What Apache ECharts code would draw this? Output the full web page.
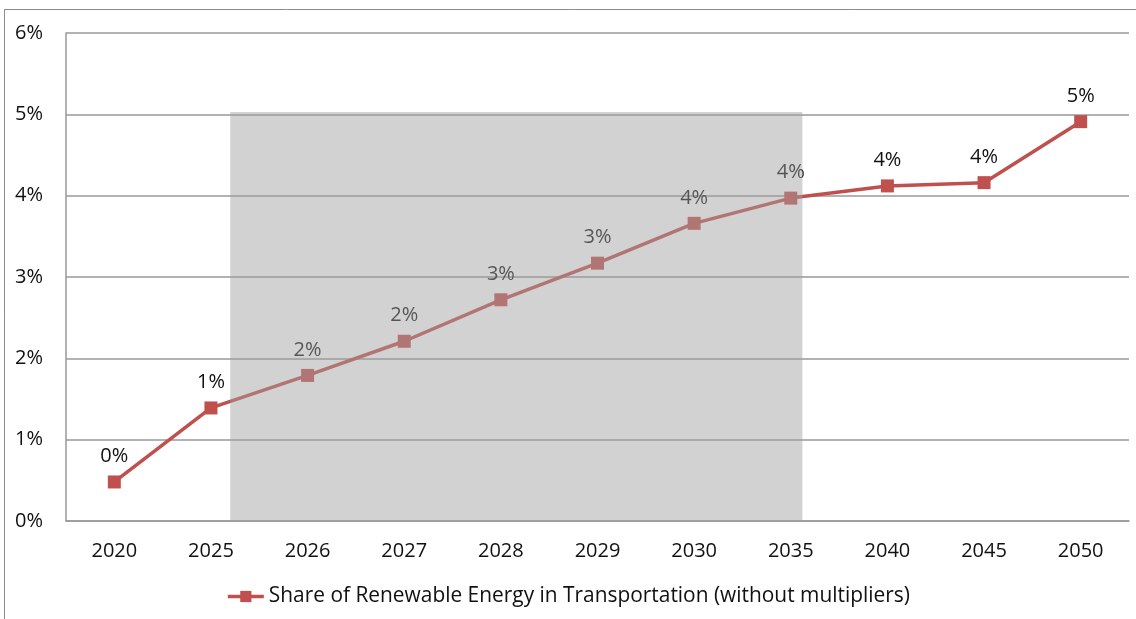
<!DOCTYPE html>
<html>
<head>
<meta charset="utf-8">
<script src="https://cdn.jsdelivr.net/npm/echarts@6/dist/echarts.min.js"></script>
<style>
  html, body { margin: 0; padding: 0; background: #fff; }
  #main { width: 1136px; height: 619px; }
</style>
</head>
<body>
<div id="main"></div>
<script>
// categories and values (percent)
var years = ['2020', '2025', '2026', '2027', '2028', '2029', '2030', '2035', '2040', '2045', '2050'];
var shareValues = [0.48, 1.39, 1.79, 2.21, 2.72, 3.17, 3.66, 3.97, 4.12, 4.16, 4.91];
var seriesName = 'Share of Renewable Energy in Transportation (without multipliers)';
var yTicks = [0, 1, 2, 3, 4, 5, 6];

// shaded band (category index range, top value)
var shadeFrom = 1.2;
var shadeTo = 7.12;
var shadeTop = 5.03;

var chart = echarts.init(document.getElementById('main'));
var font = 'Open Sans';

var option = {
  animation: false,
  textStyle: { fontFamily: font },
  grid: { left: 66, right: 7, top: 33, bottom: 98, containLabel: false },
  graphic: [{
    type: 'rect',
    silent: true,
    shape: { x: 4.5, y: 9.5, width: 1300, height: 800 },
    style: { fill: 'none', stroke: '#8c8c8c', lineWidth: 1 },
    z: -1
  }],
  legend: {
    data: [seriesName],
    bottom: 7,
    left: 'center',
    itemWidth: 36,
    itemHeight: 14,
    itemGap: 10,
    lineStyle: { width: 3.5 },
    textStyle: { fontSize: 20.9, color: '#111', fontFamily: font }
  },
  xAxis: {
    type: 'category',
    data: years,
    boundaryGap: true,
    axisLine: { lineStyle: { color: '#999', width: 1.5 } },
    axisTick: { show: false },
    axisLabel: { fontSize: 20, color: '#111', margin: 20 }
  },
  yAxis: {
    type: 'value',
    min: yTicks[0],
    max: yTicks[yTicks.length - 1],
    interval: 1,
    axisLine: { show: true, lineStyle: { color: '#999', width: 1.5 } },
    axisTick: { show: false },
    axisLabel: { fontSize: 20, color: '#111', margin: 23, formatter: '{value}%' },
    splitLine: { lineStyle: { color: '#999', width: 1.5 } }
  },
  series: [
    {
      name: seriesName,
      type: 'line',
      data: shareValues,
      z: 2,
      symbol: 'rect',
      symbolSize: 13,
      lineStyle: { color: '#c0504d', width: 3.5 },
      itemStyle: { color: '#c0504d' },
      label: {
        show: true,
        position: 'top',
        distance: 9,
        fontSize: 20,
        color: '#111',
        formatter: function (p) { return Math.round(p.value) + '%'; }
      }
    },
    {
      type: 'custom',
      name: 'shade',
      z: 10,
      silent: true,
      data: [[0, 0]],
      renderItem: function (params, api) {
        var p0 = api.coord([0, 0]);
        var p1 = api.coord([1, 0]);
        var step = p1[0] - p0[0];
        var x0 = p0[0] + shadeFrom * step;
        var x1 = p0[0] + shadeTo * step;
        var yTop = api.coord([0, shadeTop])[1];
        return {
          type: 'rect',
          shape: { x: x0, y: yTop, width: x1 - x0, height: p0[1] - yTop },
          style: { fill: 'rgba(160,160,160,0.47)' }
        };
      }
    }
  ]
};

chart.setOption(option);
</script>
</body>
</html>
